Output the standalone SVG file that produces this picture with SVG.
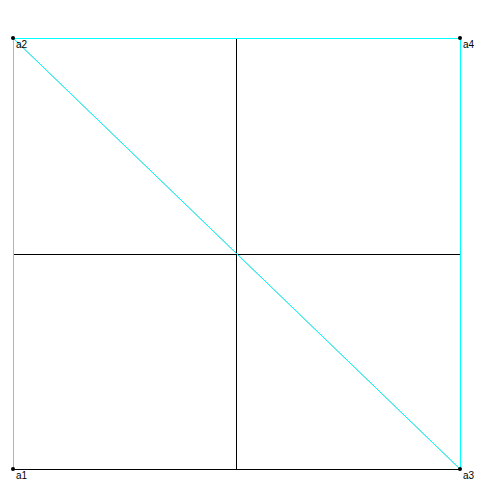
<svg xmlns="http://www.w3.org/2000/svg" width="499" height="479" viewBox="0 0 499 479">
<style>
.k{stroke:#000;stroke-width:1;fill:none;shape-rendering:crispEdges}
.c{stroke:#00ffff;stroke-width:1;fill:none;shape-rendering:crispEdges}
.g{stroke:#aaaaaa;stroke-width:1;fill:none}
.d{stroke:#00ffff;stroke-width:1;fill:none}
.pt{fill:#000}
.lb{font-family:"Liberation Sans",Arial,sans-serif;font-size:10px;fill:#000}
</style>
<rect width="499" height="479" fill="#fff"/>
<g id="connectors">
<line class="k" x1="13.5" y1="469.5" x2="460.5" y2="469.5"/>
<line class="k" x1="13.5" y1="254.5" x2="460.5" y2="254.5"/>
<line class="k" x1="236.5" y1="38.5" x2="236.5" y2="469.5"/>
<line class="c" x1="13.5" y1="38.5" x2="13.5" y2="469.5"/>
<line class="c" x1="13.5" y1="38.5" x2="460.5" y2="38.5"/>
<line class="c" x1="460" y1="38.5" x2="460" y2="469.5" stroke-width="2"/>
<line class="g" x1="13.5" y1="38.5" x2="460.5" y2="469.5"/>
<line class="d" x1="13.5" y1="38.5" x2="460.5" y2="469.5" stroke-width="0.9"/>
</g>
<g id="a1"><circle class="pt" cx="13" cy="469" r="2"/><text class="lb" x="16" y="479">a1</text></g>
<g id="a2"><circle class="pt" cx="13" cy="38" r="2"/><text class="lb" x="16" y="48">a2</text></g>
<g id="a3"><circle class="pt" cx="460" cy="469" r="2"/><text class="lb" x="463" y="479">a3</text></g>
<g id="a4"><circle class="pt" cx="460" cy="38" r="2"/><text class="lb" x="463" y="48">a4</text></g>
</svg>
